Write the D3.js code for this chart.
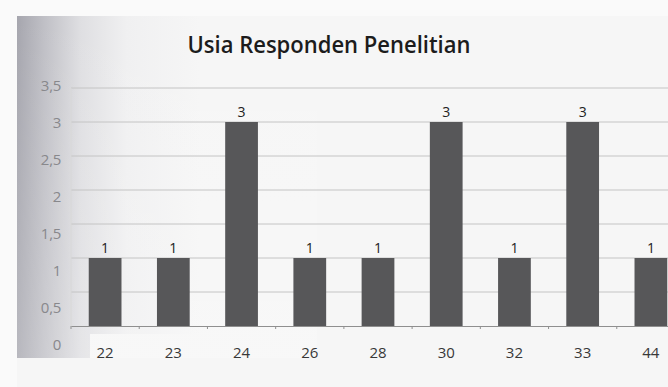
<!DOCTYPE html>
<html>
<head>
<meta charset="utf-8">
<script src="https://cdn.jsdelivr.net/npm/d3@7"></script>
<style>
  html, body { margin: 0; padding: 0; background: #fafafa; }
  svg { display: block; }
</style>
</head>
<body>
<svg id="chart" width="668" height="387"></svg>
<script>
const categories = ["22", "23", "24", "26", "28", "30", "32", "33", "44"];
const values = [1, 1, 3, 1, 1, 3, 1, 3, 1];
const yTicks = [0, 0.5, 1, 1.5, 2, 2.5, 3, 3.5];
const yTickLabels = ["0", "0,5", "1", "1,5", "2", "2,5", "3", "3,5"];
const title = "Usia Responden Penelitian";

const svg = d3.select("#chart");
const W = 668, H = 387;
const plot = { left: 71, right: 685, top: 88, bottom: 326 };

const defs = svg.append("defs");
const lg = defs.append("linearGradient")
  .attr("id", "shade")
  .attr("gradientUnits", "userSpaceOnUse")
  .attr("x1", 17).attr("y1", 0).attr("x2", 200).attr("y2", 0);
lg.append("stop").attr("offset", 0).attr("stop-color", "#a6a6ae");
lg.append("stop").attr("offset", 0.15).attr("stop-color", "#c0c0c6");
lg.append("stop").attr("offset", 0.35).attr("stop-color", "#dfdfe2");
lg.append("stop").attr("offset", 0.6).attr("stop-color", "#f0f0f1");
lg.append("stop").attr("offset", 1).attr("stop-color", "#f6f6f6");
const vg = defs.append("linearGradient")
  .attr("id", "vshade")
  .attr("x1", 0).attr("y1", 0).attr("x2", 0).attr("y2", 1);
vg.append("stop").attr("offset", 0).attr("stop-color", "#ffffff").attr("stop-opacity", 0);
vg.append("stop").attr("offset", 1).attr("stop-color", "#ffffff").attr("stop-opacity", 0.2);

// page
svg.append("rect").attr("width", W).attr("height", H).attr("fill", "#fafafa");
svg.append("rect").attr("x", 17).attr("y", 16).attr("width", W - 17).attr("height", H - 16).attr("fill", "#f6f6f6");
// scan shading
svg.append("rect").attr("x", 17).attr("y", 16).attr("width", 300).attr("height", 318).attr("fill", "url(#shade)");
svg.append("rect").attr("x", 17).attr("y", 334).attr("width", 73).attr("height", 24).attr("fill", "url(#shade)");
svg.append("rect").attr("x", 17).attr("y", 16).attr("width", 300).attr("height", 342).attr("fill", "url(#vshade)");

const x = d3.scaleBand().domain(categories).range([plot.left, plot.right])
  .paddingInner(0.52).paddingOuter(0.26);
const y = d3.scaleLinear().domain([0, 3.5]).range([plot.bottom, plot.top]);
// tick labels in the scan are spread slightly wider than the gridlines
const yLab = d3.scaleLinear().domain([0, 3.5]).range([345, 86]);

// gridlines
svg.append("g").selectAll("line").data(yTicks.filter(d => d > 0)).join("line")
  .attr("x1", plot.left).attr("x2", W)
  .attr("y1", d => y(d)).attr("y2", d => y(d))
  .attr("stroke", "#c4c4c4").attr("stroke-width", 1);

// vertical axis (faint)
svg.append("line").attr("x1", plot.left).attr("x2", plot.left)
  .attr("y1", plot.top).attr("y2", plot.bottom)
  .attr("stroke", "#d8d8d8");

// bars
svg.append("g").selectAll("rect").data(categories).join("rect")
  .attr("x", d => x(d))
  .attr("y", (d, i) => y(values[i]))
  .attr("width", x.bandwidth())
  .attr("height", (d, i) => y(0) - y(values[i]))
  .attr("fill", "#575759");

// x axis
const xAxis = d3.axisBottom(x).tickSize(0).tickFormat("");
svg.append("g").attr("transform", `translate(0,${plot.bottom})`).call(xAxis)
  .call(g => g.select(".domain").attr("stroke", "#8f8f8f"));
// category boundary ticks
svg.append("g").selectAll("line").data(d3.range(categories.length + 1)).join("line")
  .attr("x1", i => plot.left + i * x.step()).attr("x2", i => plot.left + i * x.step())
  .attr("y1", plot.bottom).attr("y2", plot.bottom + 3)
  .attr("stroke", "#8f8f8f");

// x labels
svg.append("g").selectAll("text").data(categories).join("text")
  .attr("x", d => x(d) + x.bandwidth() / 2)
  .attr("y", 358)
  .attr("text-anchor", "middle")
  .attr("font-family", "Open Sans, sans-serif")
  .attr("font-size", 15)
  .attr("fill", "#383838")
  .text(d => d);

// y labels
svg.append("g").selectAll("text").data(yTicks).join("text")
  .attr("x", 61)
  .attr("y", d => yLab(d))
  .attr("dy", "0.35em")
  .attr("text-anchor", "end")
  .attr("font-family", "Open Sans, sans-serif")
  .attr("font-size", 15)
  .attr("letter-spacing", "-0.3")
  .attr("fill", "#88888c")
  .text((d, i) => yTickLabels[i]);

// value labels
svg.append("g").selectAll("text").data(categories).join("text")
  .attr("x", d => x(d) + x.bandwidth() / 2)
  .attr("y", (d, i) => y(values[i]) - 5)
  .attr("text-anchor", "middle")
  .attr("font-family", "Open Sans, sans-serif")
  .attr("font-size", 14)
  .attr("fill", "#222")
  .text((d, i) => values[i]);

// title
svg.append("text")
  .attr("x", 329).attr("y", 53)
  .attr("text-anchor", "middle")
  .attr("font-family", "Open Sans, sans-serif")
  .attr("font-weight", 600)
  .attr("font-size", 24)
  .attr("fill", "#1c1c1c")
  .attr("textLength", 283)
  .attr("lengthAdjust", "spacingAndGlyphs")
  .text(title);
</script>
</body>
</html>
